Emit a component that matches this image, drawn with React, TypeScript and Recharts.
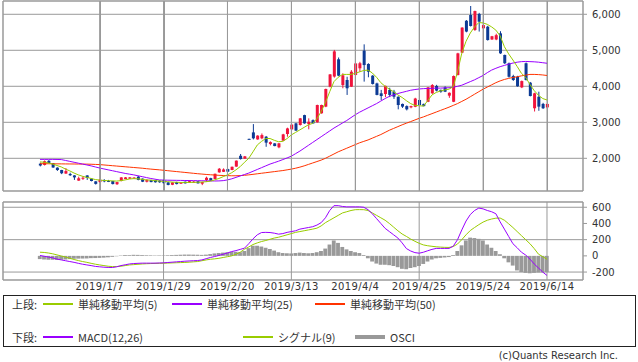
import { ComposedChart, Bar, Line, XAxis, YAxis, CartesianGrid, ReferenceArea } from "recharts"

// trading-day index of each date label (0 = 2018/12/11)
const tickIdx = [14, 29, 44, 59, 74, 89, 104, 119]
const tickLabels = ["2019/1/7", "2019/1/29", "2019/2/20", "2019/3/13", "2019/4/4", "2019/4/25", "2019/5/24", "2019/6/14"]
const priceTicks = [2000, 3000, 4000, 5000, 6000]
const macdTicks = [-200, 0, 200, 400, 600]

const open = [
  1850, 1815, 1930, 1860, 1740, 1675, 1575, 1565, 1525, 1380,
  1435, 1525, 1435, 1360, 1340, 1395, 1372, 1370, 1280, 1370,
  1425, 1435, 1440, 1490, 1435, 1350, 1395, 1395, 1380, 1395,
  1330, 1265, 1340, 1295, 1350, 1320, 1345, 1360, 1295, 1396,
  1450, 1425, 1610, 1625, 1700, 1675, 1770, 2070, 1990, 2540,
  2720, 2525, 2555, 2600, 2395, 2415, 2305, 2490, 2675, 2805,
  2970, 2925, 3200, 2950, 3060, 3000, 3250, 3435, 3990, 4270,
  4750, 4035, 4175, 3990, 4315, 4500, 4990, 4620, 4295, 4080,
  3805, 3785, 3900, 3850, 3710, 3510, 3450, 3415, 3430, 3620,
  3510, 3570, 3805, 4010, 3900, 3970, 3740, 3570, 4315, 4935,
  5820, 5980, 5565, 6010, 5610, 5655, 5300, 5300, 5470, 4870,
  4640, 4285, 4260, 3970, 4640, 4100, 3390, 3710, 3510, 3415,
]
const high = [
  1880, 1940, 1950, 1870, 1750, 1680, 1730, 1600, 1530, 1490,
  1505, 1530, 1440, 1365, 1410, 1420, 1400, 1375, 1345, 1475,
  1480, 1480, 1475, 1510, 1440, 1420, 1400, 1400, 1390, 1405,
  1340, 1335, 1350, 1340, 1355, 1380, 1370, 1365, 1345, 1490,
  1460, 1575, 1730, 1720, 1710, 1770, 1940, 2120, 2065, 2545,
  2950, 2640, 2690, 2620, 2470, 2420, 2425, 2680, 2850, 2960,
  2985, 3120, 3210, 3110, 3080, 3490, 3490, 3935, 4340, 5010,
  4800, 4360, 4265, 4450, 4640, 4680, 5165, 4640, 4310, 4100,
  3900, 4020, 3960, 3900, 3720, 3520, 3470, 3460, 3680, 3630,
  3520, 3980, 4060, 4040, 3910, 4000, 3830, 4300, 4930, 5640,
  5840, 6230, 6100, 6040, 5720, 5680, 5400, 5460, 5530, 4880,
  4660, 4320, 4290, 4160, 4660, 4120, 3820, 3850, 3540, 3520,
]
const low = [
  1775, 1800, 1860, 1735, 1650, 1560, 1570, 1510, 1400, 1375,
  1400, 1400, 1360, 1270, 1330, 1335, 1340, 1275, 1260, 1360,
  1420, 1425, 1430, 1390, 1340, 1330, 1335, 1325, 1320, 1300,
  1250, 1255, 1275, 1290, 1300, 1315, 1330, 1300, 1255, 1350,
  1375, 1420, 1600, 1620, 1620, 1670, 1765, 1965, 1985, 2525,
  2525, 2515, 2530, 2320, 2360, 2335, 2280, 2480, 2600, 2780,
  2760, 2910, 2960, 2805, 2965, 2990, 3240, 3420, 3970, 4240,
  4280, 3945, 3760, 3980, 4300, 4400, 4130, 4250, 4050, 3750,
  3620, 3700, 3700, 3650, 3360, 3400, 3330, 3390, 3420, 3470,
  3440, 3560, 3790, 3860, 3820, 3840, 3680, 3560, 4300, 4920,
  5500, 5660, 5540, 5520, 4960, 5270, 5290, 5280, 4900, 4620,
  4240, 4150, 3990, 3950, 4160, 3720, 3300, 3320, 3370, 3380,
]
const close = [
  1800, 1920, 1870, 1745, 1675, 1585, 1645, 1530, 1470, 1445,
  1460, 1455, 1370, 1290, 1405, 1360, 1368, 1285, 1340, 1470,
  1470, 1470, 1465, 1400, 1350, 1395, 1340, 1335, 1335, 1310,
  1260, 1330, 1285, 1330, 1305, 1365, 1350, 1305, 1340, 1460,
  1380, 1570, 1710, 1690, 1630, 1765, 1935, 1980, 2055, 2530,
  2555, 2630, 2645, 2435, 2450, 2340, 2415, 2665, 2830, 2935,
  2770, 3110, 2970, 3015, 2970, 3480, 3480, 3925, 4330, 4970,
  4295, 4305, 3945, 4405, 4635, 4640, 4590, 4405, 4065, 3760,
  3730, 4010, 3760, 3710, 3480, 3435, 3360, 3450, 3660, 3480,
  3450, 3970, 4035, 3880, 3850, 3850, 3820, 4285, 4915, 5630,
  5520, 5675, 6090, 5795, 5700, 5285, 5390, 5420, 4915, 4640,
  4265, 4175, 4000, 4145, 4175, 3730, 3805, 3435, 3390, 3510,
]
const ma5 = [
  1900, 1890, 1870, 1840, 1800, 1760, 1700, 1650, 1590, 1540,
  1500, 1470, 1440, 1410, 1395, 1385, 1378, 1372, 1368, 1380,
  1400, 1425, 1435, 1430, 1415, 1400, 1395, 1380, 1368, 1360,
  1350, 1340, 1335, 1330, 1330, 1330, 1332, 1335, 1340, 1350,
  1365, 1400, 1440, 1490, 1540, 1600, 1680, 1770, 1890, 2000,
  2180, 2370, 2470, 2550, 2550, 2500, 2460, 2470, 2550, 2650,
  2720, 2790, 2860, 2930, 2970, 3100, 3300, 3550, 3850, 4130,
  4250, 4330, 4330, 4330, 4360, 4400, 4440, 4450, 4370, 4250,
  4100, 4000, 3920, 3850, 3760, 3690, 3600, 3520, 3470, 3460,
  3450, 3600, 3760, 3830, 3870, 3900, 3920, 3990, 4400, 4920,
  5250, 5480, 5650, 5770, 5760, 5720, 5650, 5560, 5400, 5100,
  4900, 4730, 4550, 4360, 4250, 4050, 3880, 3750, 3660, 3620,
]
const ma25 = [
  1970, 1970, 1970, 1970, 1968, 1965, 1940, 1915, 1890, 1865,
  1840, 1815, 1790, 1760, 1730, 1705, 1680, 1655, 1630, 1605,
  1580, 1560, 1540, 1515, 1490, 1465, 1440, 1420, 1400, 1395,
  1392, 1390, 1388, 1386, 1384, 1382, 1380, 1378, 1376, 1374,
  1372, 1370, 1372, 1380, 1400, 1430, 1470, 1510, 1550, 1590,
  1640, 1690, 1740, 1790, 1840, 1880, 1920, 1965, 2010, 2060,
  2130, 2200, 2280, 2360, 2440, 2520, 2600, 2680, 2760, 2840,
  2910, 2980, 3050, 3130, 3210, 3280, 3340, 3400, 3460, 3520,
  3590, 3660, 3720, 3760, 3800, 3830, 3860, 3890, 3910, 3925,
  3935, 3940, 3945, 3950, 3950, 3955, 3960, 3975, 4000, 4030,
  4080, 4130, 4180, 4240, 4300, 4380, 4450, 4500, 4545, 4580,
  4615, 4645, 4670, 4685, 4690, 4685, 4680, 4670, 4655, 4640,
]
const ma50 = [
  1850, 1850, 1848, 1847, 1846, 1845, 1844, 1843, 1842, 1841,
  1840, 1838, 1835, 1830, 1825, 1815, 1805, 1795, 1785, 1775,
  1765, 1755, 1745, 1735, 1725, 1712, 1700, 1690, 1680, 1668,
  1656, 1644, 1632, 1620, 1608, 1596, 1584, 1572, 1562, 1552,
  1543, 1535, 1528, 1522, 1518, 1515, 1515, 1520, 1528, 1540,
  1555, 1570, 1585, 1600, 1615, 1630, 1645, 1660, 1680, 1700,
  1725, 1755, 1790, 1830, 1870, 1910, 1950, 2000, 2060, 2120,
  2180, 2230, 2280, 2330, 2380, 2430, 2470, 2510, 2560, 2610,
  2660, 2720, 2780, 2830, 2880, 2930, 2975, 3020, 3065, 3110,
  3150, 3195, 3240, 3285, 3330, 3375, 3420, 3470, 3520, 3580,
  3640, 3710, 3780, 3850, 3920, 3980, 4040, 4100, 4150, 4190,
  4220, 4245, 4265, 4290, 4310, 4330, 4330, 4325, 4315, 4300,
]
const macd = [
  5, -5, -15, -25, -40, -50, -60, -70, -80, -92,
  -103, -112, -120, -130, -135, -140, -143, -144, -135, -120,
  -110, -100, -95, -92, -90, -90, -90, -90, -88, -86,
  -82, -78, -74, -70, -66, -63, -60, -58, -50, -35,
  -20, -8, 5, 20, 35, 53, 65, 80, 95, 150,
  210, 260, 288, 290, 288, 280, 268, 275, 290, 300,
  310, 330, 340, 350, 360, 380, 410, 470, 560, 620,
  620, 610, 605, 605, 605, 605, 600, 570, 520, 460,
  400, 340, 300, 260, 220, 160, 90, 60, 40, 33,
  45, 63, 80, 92, 92, 92, 92, 120, 200, 320,
  430, 510, 560, 590, 580, 560, 545, 520, 420, 330,
  240, 150, 100, 45, 10, -40, -100, -150, -200, -242,
]
const signal = [
  45, 42, 35, 25, 12, -2, -15, -30, -45, -58,
  -70, -80, -92, -103, -112, -120, -128, -132, -132, -128,
  -120, -112, -108, -104, -100, -97, -95, -93, -92, -91,
  -89, -87, -85, -83, -81, -78, -74, -70, -60, -50,
  -42, -37, -30, -20, -10, 0, 20, 45, 82, 110,
  140, 160, 177, 190, 205, 220, 230, 245, 260, 275,
  290, 300, 310, 320, 330, 342, 370, 410, 440, 470,
  500, 530, 545, 560, 570, 571, 570, 560, 530, 500,
  470, 440, 400, 355, 310, 270, 240, 208, 180, 155,
  135, 125, 118, 112, 108, 105, 104, 115, 146, 200,
  260, 313, 350, 385, 417, 440, 455, 465, 467, 440,
  396, 350, 300, 250, 200, 150, 90, 21, -10, -42,
]
const osci = [
  -40, -45, -48, -48, -50, -48, -45, -40, -36, -34,
  -33, -32, -28, -27, -25, -22, -18, -12, -5, 5,
  10, 12, 13, 12, 10, 8, 7, 5, 6, 6,
  8, 10, 12, 14, 16, 16, 15, 14, 12, 15,
  22, 30, 35, 40, 45, 50, 50, 45, 60, 95,
  125, 125, 115, 100, 85, 65, 45, 35, 32, 30,
  35, 40, 35, 32, 35, 45, 60, 90, 140, 190,
  160, 110, 80, 60, 45, 35, 10, -30, -70, -95,
  -110, -110, -115, -125, -140, -160, -165, -150, -140, -125,
  -100, -70, -45, -30, -25, -20, -15, 10, 60, 130,
  190, 225, 220, 210, 190, 140, 100, 60, 20, -30,
  -80, -120, -180, -200, -210, -215, -210, -205, -205, -200,
]

const X_DOMAIN: [number, number] = [-8.68, 127.45]
const P_DOMAIN: [number, number] = [1092, 6369]
const M_DOMAIN: [number, number] = [-298, 665]

const rows = close.map((c, i) => ({
  i,
  range: [low[i], high[i]],
  open: open[i],
  high: high[i],
  low: low[i],
  close: c,
  ma5: ma5[i],
  ma25: ma25[i],
  ma50: ma50[i],
  macd: macd[i],
  signal: signal[i],
  osci: osci[i],
}))

const UP = "#f0143c"
const DOWN = "#0c3a94"
const GREEN = "#99cc00"
const PURPLE = "#9900ff"
const ORANGE = "#ff3300"
const GRID = "#999"
const TICK = { fontSize: 10, fill: "#333", fontFamily: "DejaVu Sans" }

// plot box shared by both panels (margin left 3, y axis 55 wide on the right)
const PLOT_LEFT = 3
const PLOT_W = 638 - PLOT_LEFT - 55

function Candle(props: any) {
  const { x, y, width, height, payload } = props
  const { open, close, high, low } = payload
  const color = close >= open ? UP : DOWN
  const span = high - low || 1
  const px = (v: number) => y + ((high - v) / span) * height
  const top = px(Math.max(open, close))
  const bot = px(Math.min(open, close))
  const cx = x + width / 2
  return (
    <g>
      <line x1={cx} x2={cx} y1={y} y2={y + height} stroke={color} strokeWidth={1} />
      <rect x={x} y={top} width={width} height={Math.max(1, bot - top)} fill={color} />
    </g>
  )
}

// vertical date grid of the price panel, same linear map as the x axis
function PriceDateGrid() {
  const toX = (t: number) => PLOT_LEFT + ((t - X_DOMAIN[0]) / (X_DOMAIN[1] - X_DOMAIN[0])) * PLOT_W
  return (
    <svg width={638} height={193} style={{ position: "absolute", left: 0, top: 0, pointerEvents: "none" }}>
      {tickIdx.map((t) => {
        const x = Math.round(toX(t)) + 0.5
        return <line key={t} x1={x} x2={x} y1={1} y2={191} stroke={GRID} strokeWidth={1} />
      })}
    </svg>
  )
}

function LegendLine({ x, y, color, w = 2 }: { x: number; y: number; color: string; w?: number }) {
  return <div style={{ position: "absolute", left: x, top: y - w / 2, width: 30, height: w, background: color }} />
}

function LegendText({ x, y, text }: { x: number; y: number; text: string }) {
  return (
    <div style={{ position: "absolute", left: x, top: y - 6, lineHeight: "12px", fontSize: 11, color: "#333", whiteSpace: "nowrap" }}>
      {text}
    </div>
  )
}

export default function App() {
  return (
    <div style={{ position: "absolute", left: 0, top: 0, width: 638, height: 362, background: "#fff", fontFamily: "'Noto Sans CJK JP', 'DejaVu Sans', sans-serif" }}>
      <div style={{ position: "absolute", left: 0, top: 0 }}>
        <ComposedChart width={638} height={193} data={rows} margin={{ top: 1, right: 0, bottom: 1, left: 3 }}>
          <CartesianGrid stroke={GRID} />
          <XAxis type="number" dataKey="i" domain={X_DOMAIN} ticks={tickIdx} allowDataOverflow height={1}
            tickFormatter={() => ""} tickSize={0} tickMargin={0} tickLine={false} axisLine={false} />
          <YAxis orientation="right" width={55} domain={P_DOMAIN} ticks={priceTicks} allowDataOverflow
            tickFormatter={(v: number) => v.toLocaleString("en-US")} tick={TICK} tickSize={4} tickMargin={5}
            tickLine={{ stroke: GRID }} axisLine={false} />
          <Bar dataKey="range" barSize={3} shape={<Candle />} isAnimationActive={false} />
          <Line dataKey="ma50" stroke={ORANGE} strokeWidth={1} dot={false} isAnimationActive={false} />
          <Line dataKey="ma25" stroke={PURPLE} strokeWidth={1} dot={false} isAnimationActive={false} />
          <Line dataKey="ma5" stroke={GREEN} strokeWidth={1} dot={false} isAnimationActive={false} />
          <ReferenceArea x1={X_DOMAIN[0]} x2={X_DOMAIN[1]} y1={P_DOMAIN[0]} y2={P_DOMAIN[1]} fill="none" stroke={GRID} ifOverflow="visible" />
        </ComposedChart>
      </div>
      <PriceDateGrid />
      <div style={{ position: "absolute", left: 0, top: 201 }}>
        <ComposedChart width={638} height={100} data={rows} margin={{ top: 1, right: 0, bottom: 1, left: 3 }}>
          <CartesianGrid stroke={GRID} />
          <XAxis type="number" dataKey="i" domain={X_DOMAIN} ticks={tickIdx} allowDataOverflow height={20}
            tickFormatter={(v: number) => tickLabels[tickIdx.indexOf(v)] ?? ""} tick={{ ...TICK, letterSpacing: 0.4 }}
            tickLine={false} axisLine={false} tickSize={0} tickMargin={3} />
          <YAxis orientation="right" width={55} domain={M_DOMAIN} ticks={macdTicks} allowDataOverflow
            tick={TICK} tickSize={4} tickMargin={5} tickLine={{ stroke: GRID }} axisLine={false} />
          <Bar dataKey="osci" fill="#999" barSize={5} isAnimationActive={false} />
          <Line dataKey="signal" stroke={GREEN} strokeWidth={1} dot={false} isAnimationActive={false} />
          <Line dataKey="macd" stroke={PURPLE} strokeWidth={1} dot={false} isAnimationActive={false} />
          <ReferenceArea x1={X_DOMAIN[0]} x2={X_DOMAIN[1]} y1={M_DOMAIN[0]} y2={M_DOMAIN[1]} fill="none" stroke={GRID} ifOverflow="visible" />
        </ComposedChart>
      </div>

      <div style={{ position: "absolute", left: 3, top: 295, width: 631, height: 50, border: "1px solid #222" }} />
      <LegendText x={12} y={304} text="上段:" />
      <LegendLine x={43} y={304} color={GREEN} />
      <LegendText x={78} y={304} text="単純移動平均(5)" />
      <LegendLine x={172} y={304} color={PURPLE} />
      <LegendText x={207} y={304} text="単純移動平均(25)" />
      <LegendLine x={315} y={304} color={ORANGE} />
      <LegendText x={350} y={304} text="単純移動平均(50)" />

      <LegendText x={12} y={337} text="下段:" />
      <LegendLine x={43} y={337} color={PURPLE} />
      <LegendText x={78} y={337} text="MACD(12,26)" />
      <LegendLine x={243} y={337} color={GREEN} />
      <LegendText x={278} y={337} text="シグナル(9)" />
      <LegendLine x={355} y={337} color="#999" w={4} />
      <LegendText x={390} y={337} text="OSCI" />

      <div style={{ position: "absolute", right: 20, top: 349, fontSize: 10, color: "#333", lineHeight: "14px", fontFamily: "DejaVu Sans" }}>
        (c)Quants Research Inc.
      </div>
    </div>
  )
}
